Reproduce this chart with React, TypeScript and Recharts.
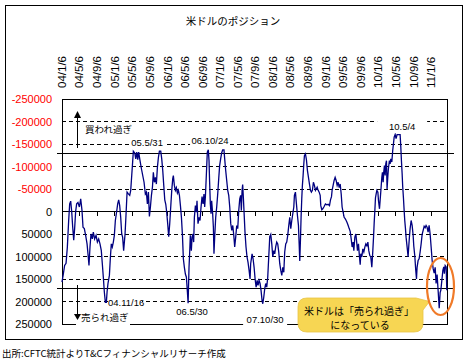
import React from 'react';
import { LineChart, Line, XAxis, YAxis, ReferenceLine, ReferenceArea, ReferenceDot } from 'recharts';

const tickLabels = [
  '04/1/6', '04/5/6', '04/9/6', '05/1/6', '05/5/6', '05/9/6', '06/1/6', '06/5/6', '06/9/6',
  '07/1/6', '07/5/6', '07/9/6', '08/1/6', '08/5/6', '08/9/6', '09/1/6', '09/5/6', '09/9/6',
  '10/1/6', '10/5/6', '10/9/6', '11/1/6',
];

const yTicks = [-250000, -200000, -150000, -100000, -50000, 0, 50000, 100000, 150000, 200000, 250000];
const gridValues = [-200000, -150000, -100000, -50000, 50000, 100000, 150000, 200000];
const thresholdValues = [-130000, 170000];

// weeks since 2004/1/6
const weeks = [
  0, 1.3, 2.6, 4, 5.3, 6.6, 7.6, 8.6, 9.6, 10.6, 11.6, 12.5, 13.5, 14.5, 15.8, 17.2, 18.5, 19.8, 20.8, 22.1,
  23.4, 24.8, 26, 26.7, 27.7, 28.7, 30, 31, 32.3, 33.7, 35, 36.3, 37.6, 38.9, 39.9, 40.9, 41.9, 42.9, 43.9, 44.6,
  45.5, 46.9, 47.9, 48.8, 49.8, 50.8, 51.8, 52.8, 54.1, 55.1, 56.1, 57.1, 58.1, 59.1, 60, 61,
  62.4, 63.4, 64.4, 65.7, 67, 68, 69, 70, 70.6, 72, 73, 74, 75, 75.9, 77.2, 78.6, 79.9, 81.2, 82.5, 83.5,
  84.5, 85.5, 86.5, 87.5, 88.5, 89.5, 90.4, 91.4, 92.4, 93.4, 94.4, 95.4, 96.4, 97.7, 98.7, 99.7, 100.7, 101.7, 102.7, 103.6,
  104.6, 105.6, 106.6, 107.6, 108.6, 109.6, 110.2, 111.2, 112.2, 113.2, 114.2, 115.2, 116.2, 117.2, 118.2, 119.2, 120.1, 121.1, 122.1, 123.1,
  124.1, 124.8,
  125.7, 126.3, 127, 128, 128.7, 129.6, 130.3, 131, 132, 133, 133.6, 134.6, 135.6, 136.6, 137.6, 138.6, 139.6, 140.5, 141.2, 141.9,
  142.9, 143.8, 144.8, 145.5, 146.1, 146.8, 147.5, 148.1, 149.1, 149.8, 150.4, 151.1, 152.1, 153.1, 154.1, 155.1, 156, 157, 158, 159,
  160.3, 161, 162, 163, 164, 165, 166, 167, 168, 169, 170, 170.9, 171.9, 172.9, 173.9, 174.9, 175.9, 176.8, 177.5, 178.2,
  178.8, 179.5, 180.1, 181.1, 182.1, 183.1, 184.1, 185.1, 186.1, 186.7, 187.7,
  188.1, 189.1, 190.1, 191.1, 192.1, 193.1, 194, 195, 196, 197, 198, 198.7, 199.7, 200.6, 201.6, 202.6, 203.6, 204.6, 205.6, 206.6,
  207.6, 208.6, 209.6, 210.5, 211.5, 212.5, 213.5, 214.5, 215.5, 216.5, 217.5, 218.5, 219.5, 220.4, 221.4, 222.4, 223.4, 224.4, 225.4, 226.4,
  227.4, 228.4, 229.4, 230, 231, 232, 233, 234, 234.7, 235.3, 236, 236.6, 237.3, 237.9, 238.6, 239.3, 239.9, 240.9, 241.9, 242.9,
  243.9, 244.9, 245.9, 246.8, 247.8, 248.8, 249.8, 250.8,
  251.5, 252.5, 253.5, 254.5, 255.5, 256.1, 257.1, 258.1, 259.4, 260.7, 262, 263.4, 264.7, 265.7, 266.7, 267.3, 268.3, 269.3, 270.3, 271.3,
  272.3, 273.3, 274.3, 275.3, 276.3, 277.2, 278.2, 279.2, 280.2, 281.2, 282.2, 283.2, 284.2, 285.2, 286.2, 287.1, 288.1, 288.8, 289.8, 290.8,
  291.8, 292.4, 293.4, 294.4, 295.1, 295.7, 296.7, 297.7, 298.7, 299.7, 300.7, 301.7, 302.7, 303.6, 304.6, 305.6, 306.6, 307.6, 308.3, 308.9,
  309.6, 310.2, 310.9, 311.6, 312.6, 313.2, 314.2,
  314.8, 315.8, 316.5, 317.1, 317.8, 318.4, 319.1, 319.8, 320.4, 321.1, 321.7, 322.4, 323, 324, 324.7, 325.4, 326.4, 327.3, 328, 328.7,
  329.7, 330.6, 331.6, 332.6, 333.6, 334.6, 335.3, 335.9, 336.6, 337.2, 337.9, 338.6, 339.2, 339.9, 340.5, 341.2, 341.9, 342.5, 343.2, 343.8,
  344.5, 345.5, 346.5, 347.5, 348.1, 349.1, 350.1, 350.8, 351.4, 352.4, 353.4, 354.4, 355.4, 356.4, 357.4, 358.4, 359.4, 360.3, 361.3, 362.3,
  363.3, 364.3, 365.3, 366.3, 367.3, 368.3, 369.3, 370.2, 371.2, 372.2, 373.3, 374.2, 374.9, 375.9, 376.9, 377.8, 378.4, 379.2, 380.2, 380.8,
];

const positions = [
  157000, 139000, 120000, 115000, 79000, 20000, -17000, -23000, 0, 35000, 64000, 38000, 0, -17000, -20000, -10000, -28000, -2000, 35000, 38000,
  53000, 72000, 101000, 120000, 79000, 50000, 61000, 46000, 61000, 53000, 68000, 61000, 72000, 87000, 116000, 146000, 179000, 202000, 202000, 179000,
  160000, 142000, 101000, 72000, 79000, 68000, 53000, 20000, 0, -17000, -26000, -13000, 13000, 50000, 57000, 87000,
  50000, 5000, -43000, -39000, -36000, -47000, -80000, -113000, -134000, -130000, -117000, -132000, -115000, -132000, -113000, -95000, -80000, -65000, -39000, -43000,
  -17000, -43000, 11000, -10000, -36000, -54000, -87000, -65000, -76000, -61000, -98000, -120000, -134000, -134000, -117000, -91000, -58000, -26000, -16000, 1500,
  27000, 56000, 27000, -10000, -47000, -73000, -80000, -58000, -47000, -53000, -41000, -47000, -36000, -13000, 13000, 53000, 105000, 124000, 139000, 146000,
  179000, 204000,
  124000, 94000, 53000, 87000, 57000, 50000, 68000, 13000, -13000, 1500, -24000, 27000, 13000, 20000, -10000, -33000, -17000, -39000, -10000, -33000,
  -84000, -132000, -137000, -113000, -65000, -17000, 5000, -24000, 5000, 35000, 94000, 57000, 13000, -10000, -39000, -73000, -102000, -117000, -130000, -137000,
  -137000, -117000, -91000, -69000, -47000, -36000, -10000, 27000, 42000, 31000, 53000, 79000, 57000, 31000, 38000, -2000, -28000, -36000, -2000, -47000,
  -60000, -30000, -2000, 46000, 79000, 101000, 113000, 130000, 150000, 116000, 101000,
  94000, 105000, 124000, 150000, 168000, 153000, 164000, 153000, 160000, 176000, 198000, 205000, 190000, 172000, 160000, 168000, 146000, 101000, 56000, 51000,
  72000, 101000, 87000, 94000, 78000, 68000, 72000, 90000, 116000, 131000, 142000, 124000, 135000, 90000, 72000, 68000, 53000, 31000, 13000, 38000,
  20000, 5000, -10000, -36000, -43000, -17000, 9000, 31000, 72000, 110000, 61000, 13000, -30000, -58000, -80000, -106000, -124000, -128000, -115000, -91000,
  -76000, -61000, -47000, -43000, -47000, -65000, -58000, -47000,
  -50000, -54000, -47000, -43000, -36000, -13000, -4000, -6000, -11000, -17000, -15000, -16000, -13000, -26000, -33000, -47000, -58000, -69000, -76000, -69000,
  -58000, -65000, -53000, -61000, -39000, -10000, 1500, 13000, 16000, 20000, 25000, 31000, 38000, 44000, 61000, 79000, 68000, 87000, 57000, 50000,
  72000, 87000, 72000, 101000, 118000, 94000, 101000, 83000, 90000, 79000, 72000, 76000, 68000, 87000, 98000, 101000, 124000, 87000, 57000, 27000,
  -2000, -30000, -39000, -47000, -43000, -24000, -6000,
  -24000, -54000, -76000, -87000, -65000, -87000, -102000, -80000, -106000, -113000, -50000, -76000, -95000, -113000, -106000, -117000, -110000, -136000, -150000, -165000,
  -171000, -162000, -171000, -171000, -171000, -171000, -143000, -113000, -84000, -54000, -30000, -2000, 20000, 38000, 57000, 72000, 87000, 101000, 76000, 57000,
  38000, 20000, 31000, 53000, 76000, 98000, 131000, 150000, 124000, 109000, 105000, 90000, 72000, 51000, 42000, 33000, 36000, 31000, 35000, 46000,
  31000, 50000, 79000, 109000, 127000, 137000, 124000, 160000, 140000, 175000, 215000, 180000, 175000, 153000, 131000, 123000, 138000, 120000, 123000, 175000,
];

const annTexts = ['05.5/31', '06.10/24', '10.5/4', '04.11/16', '06.5/30', '07.10/30'];
const annWeeks = [84.2, 146.5, 336.6, 63.4, 128.7, 201];
const annValues = [-154000, -158500, -190000, 202000, 222000, 239000];
const annBoxWidths = [34, 40, 50, 32, 40, 44];

const START = Date.UTC(2004, 0, 6);
const tickWeeks = tickLabels.map((s) => {
  const [y, m, d] = s.split('/').map(Number);
  return (Date.UTC(2000 + y, m - 1, d) - START) / (7 * 86400000);
});

const data = weeks.map((w, i) => ({ w, v: positions[i] }));

const LATIN = "'Liberation Sans', Arial, sans-serif";
const CJK = "'Noto Sans CJK JP', 'Noto Sans', sans-serif";

const XTick = (p: any) => (
  <text
    x={p.x}
    y={p.y}
    transform={`rotate(-90 ${p.x} ${p.y})`}
    textAnchor="start"
    dominantBaseline="central"
    fontSize={11.5}
    fontFamily={LATIN}
    fill="#000"
  >
    {tickLabels[p.index]}
  </text>
);

const YTick = (p: any) => {
  const v = p.payload.value;
  return (
    <text
      x={p.x}
      y={p.y}
      textAnchor="end"
      dominantBaseline="central"
      fontSize={11}
      fontFamily={LATIN}
      fill={v < 0 ? '#FF0000' : '#000'}
    >
      {String(v)}
    </text>
  );
};

const ExtLine = (p: any) => (
  <line x1={p.x1 - 5} y1={p.y1} x2={p.x2 + 7} y2={p.y2} stroke="#000" strokeWidth={1} shapeRendering="crispEdges" />
);

const makeAnn = (text: string, w: number) => (p: any) => (
  <g>
    <rect x={p.cx - w / 2} y={p.cy - 7} width={w} height={14} fill="#fff" />
    <text x={p.cx} y={p.cy} textAnchor="middle" dominantBaseline="central" fontSize={9.5} fontFamily={LATIN} fill="#000">
      {text}
    </text>
  </g>
);

export default function App() {
  return (
    <div style={{ position: 'absolute', left: 0, top: 0, width: 468, height: 361, background: '#fff' }}>
      <LineChart width={468} height={361} data={data} margin={{ top: 19, right: 21, bottom: 37, left: 12 }}>
        <XAxis
          dataKey="w"
          type="number"
          orientation="top"
          domain={[0, 381]}
          ticks={tickWeeks}
          interval={0}
          height={80}
          axisLine={false}
          tickLine={false}
          tickSize={0}
          tickMargin={11}
          tick={<XTick />}
        />
        <YAxis
          type="number"
          domain={[-250000, 250000]}
          reversed
          ticks={yTicks}
          interval={0}
          width={50}
          axisLine={false}
          tickLine={false}
          tickSize={0}
          tickMargin={10}
          tick={<YTick />}
        />
        <ReferenceArea x1={0} x2={381} y1={-250000} y2={250000} fill="none" stroke="#000" strokeWidth={1} shapeRendering="crispEdges" />
        {gridValues.map((v) => (
          <ReferenceLine key={'g' + v} y={v} stroke="#000" strokeWidth={1} strokeDasharray="4 3" shapeRendering="crispEdges" />
        ))}
        <ReferenceLine y={0} stroke="#000" strokeWidth={1} shapeRendering="crispEdges" />
        {tickWeeks.map((t, i) => (
          <ReferenceLine key={'t' + i} segment={[{ x: t, y: 0 }, { x: t, y: 10000 }]} stroke="#000" strokeWidth={1} shapeRendering="crispEdges" />
        ))}
        {thresholdValues.map((v) => (
          <ReferenceLine key={'th' + v} y={v} shape={ExtLine} />
        ))}
        <Line type="linear" dataKey="v" stroke="#000080" strokeWidth={1.3} dot={false} isAnimationActive={false} />
        {annTexts.map((t, i) => (
          <ReferenceDot key={'a' + i} x={annWeeks[i]} y={annValues[i]} r={1} shape={makeAnn(t, annBoxWidths[i])} />
        ))}
      </LineChart>
      <svg width={468} height={361} style={{ position: 'absolute', left: 0, top: 0, pointerEvents: 'none' }}>
        <rect x={5.5} y={5.5} width={457} height={334} fill="none" stroke="#000" strokeWidth={1} />
        <text x={233} y={20} textAnchor="middle" dominantBaseline="central" fontSize={10.5} fontFamily={CJK} fill="#000">
          米ドルのポジション
        </text>
        <line x1={77.5} y1={148} x2={77.5} y2={117} stroke="#000" strokeWidth={1} />
        <polygon points="77.5,111 74,118 81,118" fill="#000" />
        <text x={85} y={129} dominantBaseline="central" fontSize={9.5} fontFamily={CJK} fill="#000">
          買われ過ぎ
        </text>
        <rect x={76} y={310} width={54} height={16} fill="#fff" />
        <line x1={77.5} y1={285} x2={77.5} y2={315} stroke="#000" strokeWidth={1} />
        <polygon points="74,314 81,314 77.5,320" fill="#000" />
        <text x={81} y={317} dominantBaseline="central" fontSize={9.5} fontFamily={CJK} fill="#000">
          売られ過ぎ
        </text>
        <path
          d="M 307 298 L 416 298 L 429.5 301.5 L 423 310 L 423 323 Q 423 332 414 332 L 307 332 Q 298 332 298 323 L 298 307 Q 298 298 307 298 Z"
          fill="#F7D653"
          stroke="#E8C445"
          strokeWidth={0.8}
        />
        <text x={359} y={310} textAnchor="middle" dominantBaseline="central" fontSize={10} fontFamily={CJK} fill="#000">
          米ドルは「売られ過ぎ」
        </text>
        <text x={360} y={324} textAnchor="middle" dominantBaseline="central" fontSize={10} fontFamily={CJK} fill="#000">
          になっている
        </text>
        <ellipse cx={440.5} cy={286.5} rx={13.5} ry={28.5} fill="none" stroke="#F07A28" strokeWidth={2.2} />
        <text x={2} y={353} dominantBaseline="central" fontSize={9.5} fontFamily={CJK} fill="#000">
          出所:CFTC統計よりT&amp;Cフィナンシャルリサーチ作成
        </text>
      </svg>
    </div>
  );
}
